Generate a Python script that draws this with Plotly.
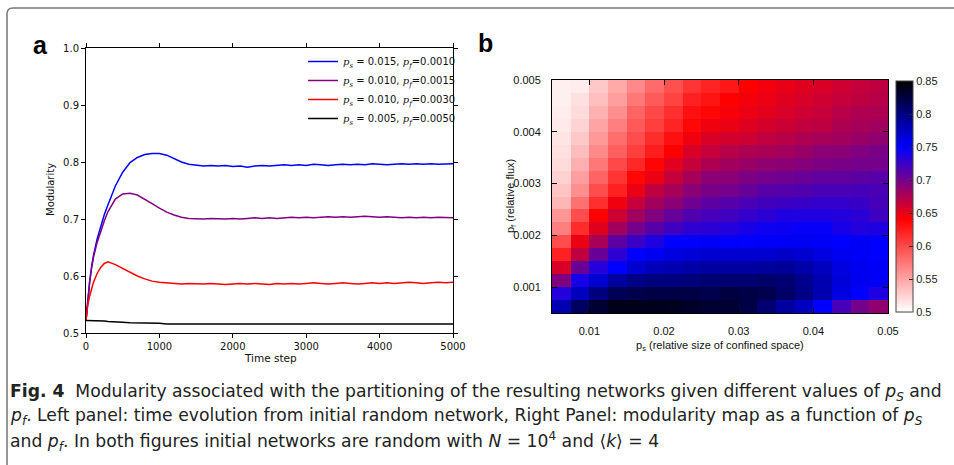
import plotly.graph_objects as go

# ---------------- data: left panel (time evolution) ----------------
time_step = [0, 25, 50, 75, 100, 150, 200, 250, 300, 400, 500, 600, 700, 800, 900, 1000,
             1100, 1200, 1300, 1400, 1500,
             1600, 1700, 1800, 1900, 2000, 2100, 2200, 2300, 2400, 2500,
             2600, 2700, 2800, 2900, 3000, 3100, 3200, 3300, 3400, 3500,
             3600, 3700, 3800, 3900, 4000, 4100, 4200, 4300, 4400, 4500,
             4600, 4700, 4800, 4900, 5000]

mod_blue = [0.522, 0.560, 0.590, 0.615, 0.635, 0.664, 0.688, 0.708, 0.725, 0.758, 0.782, 0.799,
            0.808, 0.813, 0.815, 0.815, 0.812, 0.806, 0.800, 0.796, 0.794,
            0.793, 0.794, 0.793, 0.794, 0.792, 0.793, 0.791, 0.793, 0.794, 0.793,
            0.794, 0.795, 0.794, 0.795, 0.794, 0.796, 0.795, 0.794, 0.795, 0.796,
            0.795, 0.796, 0.795, 0.797, 0.796, 0.795, 0.796, 0.797, 0.796, 0.797,
            0.796, 0.797, 0.796, 0.797, 0.797]

mod_purple = [0.522, 0.560, 0.590, 0.613, 0.632, 0.658, 0.678, 0.697, 0.713, 0.735, 0.744, 0.745,
              0.742, 0.735, 0.727, 0.719, 0.712, 0.707, 0.703, 0.701, 0.700,
              0.700, 0.701, 0.700, 0.700, 0.701, 0.700, 0.701, 0.702, 0.701, 0.702,
              0.701, 0.702, 0.703, 0.702, 0.703, 0.702, 0.703, 0.704, 0.703, 0.704,
              0.703, 0.704, 0.705, 0.704, 0.703, 0.704, 0.703, 0.702, 0.703, 0.702,
              0.703, 0.702, 0.703, 0.702, 0.702]

mod_red = [0.522, 0.550, 0.565, 0.578, 0.588, 0.604, 0.615, 0.622, 0.625, 0.620, 0.613, 0.606,
           0.600, 0.595, 0.591, 0.589, 0.588, 0.587, 0.586, 0.587, 0.586,
           0.586, 0.587, 0.586, 0.585, 0.586, 0.587, 0.586, 0.587, 0.586, 0.585,
           0.587, 0.586, 0.587, 0.586, 0.587, 0.588, 0.587, 0.586, 0.587, 0.588,
           0.587, 0.586, 0.587, 0.588, 0.587, 0.588, 0.587, 0.588, 0.589, 0.588,
           0.587, 0.588, 0.589, 0.588, 0.589]

mod_black = [0.522, 0.522, 0.522, 0.522, 0.522, 0.522, 0.521, 0.521, 0.520, 0.520, 0.519, 0.518,
             0.518, 0.517, 0.517, 0.517, 0.516, 0.516, 0.516, 0.516, 0.516,
             0.516, 0.515, 0.516, 0.516, 0.515, 0.516, 0.515, 0.516, 0.516, 0.515,
             0.516, 0.516, 0.515, 0.516, 0.516, 0.515, 0.516, 0.516, 0.516, 0.515,
             0.516, 0.516, 0.516, 0.515, 0.516, 0.516, 0.515, 0.516, 0.516, 0.516,
             0.515, 0.516, 0.516, 0.516, 0.516]

P = "<span style='font-family:DejaVu Serif'><i>p<sub>%s</sub></i></span>"
series_names = [
    P % "s" + " = 0.015, " + P % "f" + "=0.0010",
    P % "s" + " = 0.010, " + P % "f" + "=0.0015",
    P % "s" + " = 0.010, " + P % "f" + "=0.0030",
    P % "s" + " = 0.005, " + P % "f" + "=0.0050",
]
series_values = [mod_blue, mod_purple, mod_red, mod_black]
series_colors = ["#0000ff", "#800080", "#ff0000", "#000000"]

left_xticks = [0, 1000, 2000, 3000, 4000, 5000]
left_yticks = [0.5, 0.6, 0.7, 0.8, 0.9, 1.0]

# ---------------- data: right panel (modularity map) ----------------
ps_centers = [0.00625, 0.00875, 0.01125, 0.01375, 0.01625, 0.01875, 0.02125, 0.02375, 0.02625,
              0.02875, 0.03125, 0.03375, 0.03625, 0.03875, 0.04125, 0.04375, 0.04625, 0.04875]
# rows listed from top (largest p_f) to bottom (smallest p_f)
pf_centers_top_down = [0.004875, 0.004625, 0.004375, 0.004125, 0.003875, 0.003625, 0.003375,
                       0.003125, 0.002875, 0.002625, 0.002375, 0.002125, 0.001875, 0.001625,
                       0.001375, 0.001125, 0.000875, 0.000625]

mod_map_top_down = [
    [0.508, 0.510, 0.530, 0.547, 0.565, 0.582, 0.596, 0.611, 0.620, 0.628, 0.640, 0.645, 0.650, 0.654, 0.657, 0.661, 0.665, 0.668],
    [0.508, 0.517, 0.535, 0.553, 0.574, 0.591, 0.604, 0.622, 0.629, 0.640, 0.645, 0.648, 0.654, 0.657, 0.661, 0.665, 0.668, 0.671],
    [0.510, 0.520, 0.543, 0.562, 0.585, 0.600, 0.614, 0.631, 0.636, 0.643, 0.648, 0.652, 0.657, 0.661, 0.665, 0.671, 0.675, 0.675],
    [0.512, 0.524, 0.550, 0.571, 0.591, 0.606, 0.620, 0.636, 0.646, 0.648, 0.654, 0.659, 0.663, 0.667, 0.668, 0.675, 0.678, 0.680],
    [0.515, 0.530, 0.556, 0.580, 0.598, 0.616, 0.631, 0.646, 0.657, 0.659, 0.661, 0.667, 0.671, 0.675, 0.678, 0.680, 0.684, 0.688],
    [0.517, 0.537, 0.565, 0.588, 0.606, 0.624, 0.640, 0.657, 0.665, 0.671, 0.675, 0.677, 0.680, 0.684, 0.690, 0.690, 0.695, 0.698],
    [0.520, 0.544, 0.574, 0.600, 0.618, 0.638, 0.653, 0.665, 0.675, 0.680, 0.684, 0.688, 0.690, 0.693, 0.696, 0.698, 0.700, 0.700],
    [0.525, 0.553, 0.585, 0.611, 0.636, 0.648, 0.665, 0.678, 0.690, 0.690, 0.696, 0.700, 0.702, 0.705, 0.708, 0.708, 0.710, 0.712],
    [0.532, 0.562, 0.598, 0.622, 0.648, 0.668, 0.678, 0.690, 0.698, 0.700, 0.706, 0.712, 0.713, 0.715, 0.718, 0.718, 0.720, 0.718],
    [0.540, 0.578, 0.614, 0.646, 0.665, 0.680, 0.690, 0.702, 0.710, 0.713, 0.718, 0.721, 0.724, 0.726, 0.728, 0.728, 0.726, 0.720],
    [0.558, 0.598, 0.640, 0.661, 0.680, 0.695, 0.706, 0.715, 0.720, 0.723, 0.728, 0.732, 0.737, 0.737, 0.737, 0.735, 0.732, 0.723],
    [0.571, 0.616, 0.654, 0.680, 0.700, 0.713, 0.723, 0.730, 0.732, 0.735, 0.740, 0.744, 0.745, 0.747, 0.747, 0.740, 0.735, 0.737],
    [0.598, 0.648, 0.678, 0.710, 0.725, 0.737, 0.750, 0.750, 0.753, 0.750, 0.751, 0.752, 0.753, 0.755, 0.753, 0.750, 0.753, 0.750],
    [0.622, 0.668, 0.705, 0.730, 0.750, 0.756, 0.762, 0.765, 0.768, 0.768, 0.768, 0.768, 0.771, 0.768, 0.762, 0.756, 0.753, 0.750],
    [0.657, 0.705, 0.734, 0.750, 0.768, 0.778, 0.781, 0.784, 0.787, 0.787, 0.787, 0.789, 0.790, 0.784, 0.775, 0.762, 0.756, 0.753],
    [0.695, 0.740, 0.768, 0.787, 0.797, 0.800, 0.800, 0.803, 0.806, 0.806, 0.806, 0.808, 0.806, 0.794, 0.781, 0.765, 0.756, 0.753],
    [0.735, 0.775, 0.800, 0.816, 0.820, 0.822, 0.822, 0.822, 0.820, 0.825, 0.822, 0.819, 0.810, 0.797, 0.781, 0.762, 0.750, 0.737],
    [0.781, 0.812, 0.830, 0.840, 0.840, 0.839, 0.837, 0.834, 0.830, 0.830, 0.822, 0.806, 0.787, 0.775, 0.750, 0.720, 0.700, 0.688],
]

map_xticks = [0.01, 0.02, 0.03, 0.04, 0.05]
map_xticklabels = ["0.01", "0.02", "0.03", "0.04", "0.05"]
map_yticks = [0.001, 0.002, 0.003, 0.004, 0.005]
map_yticklabels = ["0.001", "0.002", "0.003", "0.004", "0.005"]
cbar_ticks = [0.5, 0.55, 0.6, 0.65, 0.7, 0.75, 0.8, 0.85]
cbar_ticklabels = ["0.5", "0.55", "0.6", "0.65", "0.7", "0.75", "0.8", "0.85"]

# ---------------- layout helpers (pixel -> paper fraction) ----------------
W, H = 954, 465
def fx(p):
    return p / W
def fy(p):
    return 1 - p / H

fig = go.Figure()

for name, vals, col in zip(series_names, series_values, series_colors):
    fig.add_trace(go.Scatter(x=time_step, y=vals, mode="lines", name=name,
                             line=dict(color=col, width=1.5), xaxis="x", yaxis="y"))

fig.add_trace(go.Heatmap(
    x=ps_centers, y=pf_centers_top_down[::-1], z=mod_map_top_down[::-1],
    xaxis="x2", yaxis="y2", zmin=0.5, zmax=0.85,
    colorscale=[[0.0, "#ffffff"], [0.4, "#ff0000"], [0.25 / 0.35, "#0000ff"], [1.0, "#000000"]],
    showscale=True,
    colorbar=dict(x=fx(896), xanchor="left", y=fy(196.5), yanchor="middle",
                  len=(312 - 81) / H, lenmode="fraction", thickness=17, thicknessmode="pixels",
                  xpad=0, ypad=0, outlinewidth=1, outlinecolor="#444",
                  ticks="inside", ticklen=4, tickcolor="#222",
                  tickvals=cbar_ticks, ticktext=cbar_ticklabels,
                  tickfont=dict(family="Liberation Sans", size=11, color="#222")),
))

axis_left_common = dict(showline=True, linecolor="black", linewidth=1, mirror="ticks",
                        ticks="outside", ticklen=4, tickcolor="black", showgrid=False,
                        zeroline=False, tickfont=dict(family="DejaVu Sans", size=10, color="#111"))
axis_right_common = dict(showline=True, linecolor="black", linewidth=1, mirror="ticks",
                         ticks="inside", ticklen=5, tickcolor="black", showgrid=False,
                         zeroline=False, tickfont=dict(family="Liberation Sans", size=11, color="#111"))

fig.update_layout(
    width=W, height=H,
    margin=dict(l=0, r=0, t=0, b=0, pad=0, autoexpand=False),
    paper_bgcolor="white", plot_bgcolor="white",
    showlegend=True,
    legend=dict(x=fx(461), xanchor="right", y=fy(47), yanchor="top",
                bgcolor="rgba(0,0,0,0)", borderwidth=0,
                font=dict(family="DejaVu Sans", size=10, color="#111"),
                itemwidth=30, tracegroupgap=0),
    xaxis=dict(domain=[fx(86), fx(453)], range=[0, 5000], tickvals=left_xticks,
               anchor="y", **axis_left_common),
    yaxis=dict(domain=[fy(333), fy(48)], range=[0.5, 1.0], tickvals=left_yticks,
               tickformat=".1f", anchor="x", **axis_left_common),
    xaxis2=dict(domain=[fx(552), fx(888)], range=[0.005, 0.05], tickvals=map_xticks,
                ticktext=map_xticklabels, anchor="y2", ticklabelstandoff=8, **axis_right_common),
    yaxis2=dict(domain=[fy(313), fy(80)], range=[0.0005, 0.005], tickvals=map_yticks,
                ticktext=map_yticklabels, anchor="x2", ticklabelstandoff=8, **axis_right_common),
)

def label(text, x, y, size, family, angle=0, color="#111"):
    return dict(text=text, x=fx(x), y=fy(y), xref="paper", yref="paper", xanchor="center",
                yanchor="middle", textangle=angle, showarrow=False,
                font=dict(family=family, size=size, color=color))

ann = [
    label("<b>a</b>", 40, 45, 25, "Liberation Sans", color="black"),
    label("<b>b</b>", 485, 43, 25, "Liberation Sans", color="black"),
    label("Modularity", 50, 190, 10, "DejaVu Sans", angle=-90),
    label("Time step", 270, 358, 10.5, "DejaVu Sans"),
    label("p<sub>f</sub> (relative flux)", 511, 196, 11, "Liberation Sans", angle=-90),
    label("p<sub>s</sub> (relative size of confined space)", 720, 346, 11, "Liberation Sans"),
]

caption_lines = [
    "<b>Fig. 4</b>  Modularity associated with the partitioning of the resulting networks given different values of <i>p<sub>S</sub></i> and",
    "<i>p<sub>f</sub></i>. Left panel: time evolution from initial random network, Right Panel: modularity map as a function of <i>p<sub>S</sub></i>",
    "and <i>p<sub>f</sub></i>. In both figures initial networks are random with <i>N</i> = 10<sup>4</sup> and \u27e8<i>k</i>\u27e9 = 4",
]
caption_y = [392, 416, 441]
for line, yy in zip(caption_lines, caption_y):
    ann.append(dict(text=line, x=fx(8), y=fy(yy), xref="paper", yref="paper", xanchor="left",
                    yanchor="middle", showarrow=False,
                    font=dict(family="DejaVu Sans", size=17.2, color="#222")))
fig.update_layout(annotations=ann)

# rounded frame around figure
r = 6
frame_path = (f"M {fx(7)},0 L {fx(7)},{fy(8 + r)} Q {fx(7)},{fy(8)} {fx(7 + r)},{fy(8)} L 1,{fy(8)}")
fig.add_shape(type="path", path=frame_path, xref="paper", yref="paper",
              line=dict(color="#777", width=1.5))

fig.write_html("out.html")
